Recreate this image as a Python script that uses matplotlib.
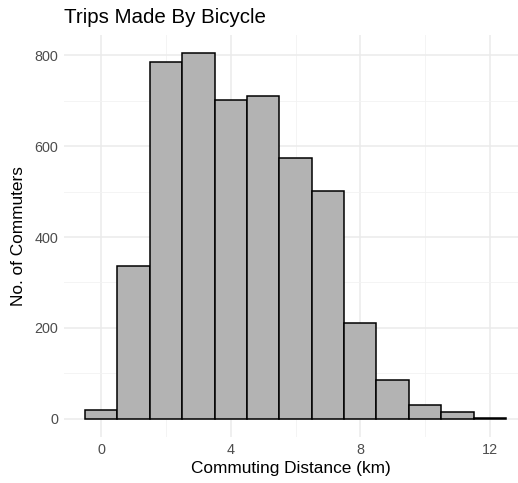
import matplotlib
matplotlib.use("Agg")
import matplotlib.pyplot as plt
from matplotlib.ticker import MultipleLocator

plt.rcParams['font.family'] = ['Liberation Sans', 'DejaVu Sans']

# histogram bins (km) and counts
bin_centers = [0, 1, 2, 3, 4, 5, 6, 7, 8, 9, 10, 11, 12]
counts = [20, 336, 785, 806, 701, 711, 573, 501, 211, 86, 30, 14, 2]

TITLE = "Trips Made By Bicycle"
X_LABEL = "Commuting Distance (km)"
Y_LABEL = "No. of Commuters"

fig = plt.figure(figsize=(5.18, 4.83), dpi=100)
ax = fig.add_axes([64 / 518, 46 / 483, 454 / 518, 402.5 / 483])

ax.bar(bin_centers, counts, width=1.0, color="#B3B3B3",
       edgecolor="black", linewidth=1.1, zorder=3)

ax.set_xlim(-1.15, 12.87)
ax.set_ylim(-40.3, 846)

ax.xaxis.set_major_locator(MultipleLocator(4))
ax.xaxis.set_minor_locator(MultipleLocator(2))
ax.yaxis.set_major_locator(MultipleLocator(200))
ax.yaxis.set_minor_locator(MultipleLocator(100))

ax.grid(which="major", color="#EBEBEB", linewidth=1.1, zorder=0)
ax.grid(which="minor", color="#F2F2F2", linewidth=0.6, zorder=0)
ax.set_axisbelow(True)

for s in ax.spines.values():
    s.set_visible(False)
ax.tick_params(which="both", length=0)
ax.tick_params(axis="both", labelsize=10.4, labelcolor="#4D4D4D", pad=4)

ax.set_title(TITLE, loc="left", fontsize=14.8, pad=8)
ax.set_xlabel(X_LABEL, fontsize=12.4, labelpad=3)
ax.set_ylabel(Y_LABEL, fontsize=12.4, labelpad=6)

fig.savefig("out.png", dpi=100)
